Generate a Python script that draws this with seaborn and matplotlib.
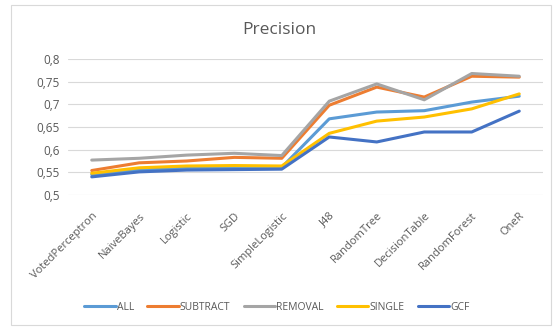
import matplotlib
matplotlib.use("Agg")
import matplotlib.pyplot as plt
import seaborn as sns
import pandas as pd
from matplotlib.patches import Rectangle
from matplotlib.lines import Line2D

categories = ["VotedPerceptron", "NaiveBayes", "Logistic", "SGD", "SimpleLogistic",
              "J48", "RandomTree", "DecisionTable", "RandomForest", "OneR"]
ALL      = [0.545, 0.556, 0.559, 0.560, 0.561, 0.668, 0.683, 0.686, 0.705, 0.718]
SUBTRACT = [0.554, 0.571, 0.575, 0.583, 0.581, 0.698, 0.738, 0.716, 0.762, 0.760]
REMOVAL  = [0.577, 0.581, 0.588, 0.592, 0.587, 0.707, 0.745, 0.710, 0.768, 0.762]
SINGLE   = [0.548, 0.560, 0.564, 0.565, 0.564, 0.636, 0.663, 0.672, 0.690, 0.723]
GCF      = [0.540, 0.551, 0.555, 0.556, 0.557, 0.628, 0.617, 0.639, 0.639, 0.685]
series_names = ["ALL", "SUBTRACT", "REMOVAL", "SINGLE", "GCF"]
yticks = [0.5, 0.55, 0.6, 0.65, 0.7, 0.75, 0.8]
ytick_labels = ["0,5", "0,55", "0,6", "0,65", "0,7", "0,75", "0,8"]

series = dict(zip(series_names, [ALL, SUBTRACT, REMOVAL, SINGLE, GCF]))
rows = []
for name, vals in series.items():
    for i, v in enumerate(vals):
        rows.append({"idx": i, "value": v, "series": name})
df = pd.DataFrame(rows)

palette = {"ALL": "#5B9BD5", "SUBTRACT": "#ED7D31", "REMOVAL": "#A5A5A5",
           "SINGLE": "#FFC000", "GCF": "#4472C4"}

sns.set_style("white")
plt.rcParams["font.family"] = ["Open Sans", "DejaVu Sans"]

fig = plt.figure(figsize=(5.59, 3.29), dpi=100)
ax = fig.add_axes([68/559, 1-195/329, (543-68)/559, (195-59)/329])

sns.lineplot(data=df, x="idx", y="value", hue="series", palette=palette,
             hue_order=series_names, linewidth=2.2, sort=False, ax=ax, legend=False)

ax.set_xlim(-0.5, 9.5)
ax.set_ylim(0.5, 0.8)
ax.set_yticks(yticks)
ax.set_yticklabels(ytick_labels, fontsize=8.5, color="#595959")
ax.set_xticks(range(len(categories)))
ax.set_xticklabels(categories, rotation=45, ha="right", rotation_mode="anchor",
                   fontsize=8, color="#595959")
ax.tick_params(axis="both", length=0)
ax.tick_params(axis="y", pad=6)
ax.tick_params(axis="x", pad=11)
ax.grid(axis="y", color="#D9D9D9", linewidth=0.8)
ax.set_axisbelow(True)
for s in ax.spines.values():
    s.set_visible(False)
ax.set_xlabel("")
ax.set_ylabel("")

fig.text(0.5, 1-30/329, "Precision", ha="center", va="center", fontsize=12.5, color="#595959")

handles = [Line2D([0], [0], color=palette[n], linewidth=2.2) for n in series_names]
fig.legend(handles, series_names, loc="center", bbox_to_anchor=(277/559, 1-307/329),
           ncol=5, frameon=False, fontsize=7.5, handlelength=3.0, columnspacing=1.3,
           handletextpad=0.1, labelcolor="#595959")

fig.patches.append(Rectangle((11/559, 4/329), 540/559, 320/329, transform=fig.transFigure,
                             fill=False, edgecolor="#D9D9D9", linewidth=0.8))

fig.savefig("out.png", dpi=100)
